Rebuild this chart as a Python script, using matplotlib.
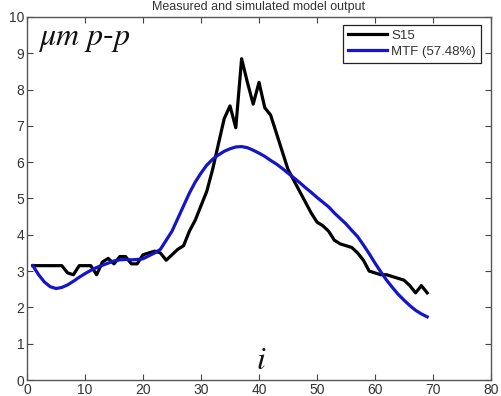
import matplotlib
matplotlib.use("Agg")
import matplotlib.pyplot as plt
import numpy as np

# sample index
idx = np.arange(1, 70)

# measured S15 (um p-p)
s15 = [3.15, 3.15, 3.15, 3.15, 3.15, 3.15, 2.95, 2.9, 3.15, 3.15,
       3.15, 2.9, 3.25, 3.35, 3.2, 3.4, 3.4, 3.2, 3.2, 3.45,
       3.5, 3.55, 3.5, 3.3, 3.45, 3.6, 3.7, 4.1, 4.4, 4.8,
       5.2, 5.8, 6.5, 7.2, 7.55, 6.95, 8.85, 8.2, 7.6, 8.2,
       7.5, 7.3, 6.8, 6.3, 5.8, 5.5, 5.2, 4.9, 4.6, 4.35,
       4.25, 4.1, 3.85, 3.75, 3.7, 3.65, 3.5, 3.3, 3.0, 2.95,
       2.9, 2.9, 2.85, 2.8, 2.75, 2.6, 2.4, 2.6, 2.4]

# simulated MTF output
mtf = [3.15, 2.9, 2.7, 2.57, 2.52, 2.55, 2.62, 2.72, 2.83, 2.93,
       3.02, 3.1, 3.16, 3.22, 3.28, 3.31, 3.32, 3.31, 3.32, 3.34,
       3.42, 3.5, 3.6, 3.85, 4.1, 4.45, 4.8, 5.15, 5.45, 5.7,
       5.92, 6.08, 6.2, 6.3, 6.37, 6.42, 6.43, 6.4, 6.33, 6.25,
       6.16, 6.05, 5.95, 5.83, 5.7, 5.57, 5.44, 5.3, 5.17, 5.03,
       4.9, 4.77, 4.6, 4.45, 4.3, 4.12, 3.95, 3.72, 3.48, 3.22,
       2.98, 2.75, 2.55, 2.36, 2.2, 2.05, 1.92, 1.82, 1.74]

labels = ["S15", "MTF (57.48%)"]

plt.rcParams['font.family'] = ['Liberation Sans', 'DejaVu Sans']
plt.rcParams['mathtext.fontset'] = 'stix'

fig = plt.figure(figsize=(5.02, 3.96), dpi=100)
ax = fig.add_axes([27 / 502, 16 / 396, 464 / 502, 363 / 396])

ax.plot(idx, s15, color='black', lw=2.3, label=labels[0])
ax.plot(idx, mtf, color='#1414c8', lw=2.3, label=labels[1])

ax.set_xlim(0, 80)
ax.set_ylim(0, 10)
ax.set_xticks(np.arange(0, 81, 10))
ax.set_yticks(np.arange(0, 11, 1))
ax.tick_params(direction='in', top=True, right=True, length=4,
               labelsize=10, colors='#444444', labelcolor='#333333', pad=2)
for sp in ax.spines.values():
    sp.set_color('#555555')
    sp.set_linewidth(1.0)

leg = ax.legend(loc='upper right', bbox_to_anchor=(0.978, 0.978),
                fontsize=9.5, handlelength=3.0, handletextpad=0.3,
                borderpad=0.35, labelspacing=0.3, fancybox=False,
                framealpha=1, borderaxespad=0)
leg.get_frame().set_edgecolor('#222222')
leg.get_frame().set_linewidth(0.9)
for t in leg.get_texts():
    t.set_color('#333333')

ax.text(1.9, 9.23, r'$\mu m\ p$-$p$', fontsize=23, ha='left', va='baseline',
        color='#111111')
ax.text(40.3, 0.3, r'$i$', fontsize=23, ha='center', va='baseline',
        color='#111111')

fig.text(0.516, 1 - 10 / 396, "Measured and simulated model output",
         ha='center', va='baseline', fontsize=9, color='#333333')

fig.savefig("out.png", dpi=100)
